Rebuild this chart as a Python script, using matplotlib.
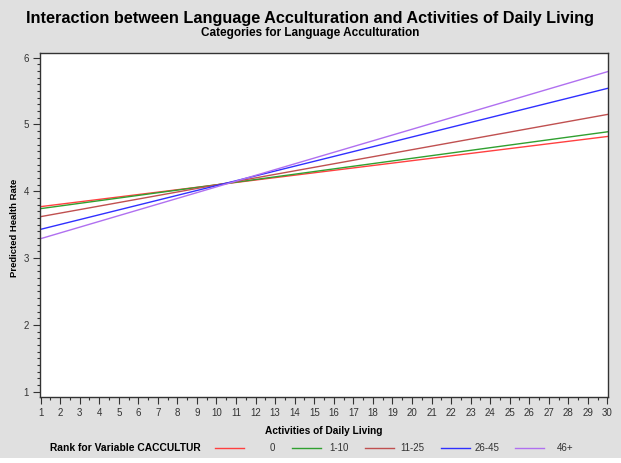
import matplotlib
matplotlib.use('Agg')
import matplotlib.pyplot as plt
from matplotlib.patches import Rectangle
from matplotlib.ticker import MultipleLocator

plt.rcParams['font.family'] = 'Liberation Sans'

# data (straight lines, value at x=1 and x=30)
adl = [1, 30]
groups = ['0', '1-10', '11-25', '26-45', '46+']
rate_0 = [3.77, 4.82]
rate_1_10 = [3.74, 4.89]
rate_11_25 = [3.62, 5.15]
rate_26_45 = [3.43, 5.54]
rate_46 = [3.29, 5.79]
colors = ['#ff4040', '#30a030', '#c05050', '#3030ff', '#b070f0']

fig = plt.figure(figsize=(6.21, 4.63), dpi=100)
fig.patch.set_facecolor('white')
fig.add_artist(Rectangle((0, 5 / 463), 1, 1, transform=fig.transFigure,
                         facecolor='#e0e0e0', edgecolor='none', zorder=-10))

ax = fig.add_axes([40 / 621, 1 - 397 / 463, 568 / 621, 344 / 463])
ax.set_facecolor('white')

series = [rate_0, rate_1_10, rate_11_25, rate_26_45, rate_46]
handles = []
for vals, c, g in zip(series, colors, groups):
    h, = ax.plot(adl, vals, color=c, lw=1, label=g)
    handles.append(h)

ax.set_xlim(0.97, 30.03)
ax.set_ylim(0.92, 6.07)
ax.xaxis.set_major_locator(MultipleLocator(1))
ax.xaxis.set_minor_locator(MultipleLocator(0.5))
ax.yaxis.set_major_locator(MultipleLocator(1))
ax.yaxis.set_minor_locator(MultipleLocator(0.1))
ax.tick_params(which='major', length=5, width=0.8, color='#333333',
               labelsize=7, labelcolor='#333333', pad=3)
ax.tick_params(which='minor', length=2.5, width=0.8, color='#333333')
for s in ax.spines.values():
    s.set_color('#333333')
    s.set_linewidth(1)

fig.text(0.5, 1 - 18 / 463, 'Interaction between Language Acculturation and Activities of Daily Living',
         ha='center', va='center', fontsize=11.7, fontweight='bold')
fig.text(0.5, 1 - 33 / 463, 'Categories for Language Acculturation',
         ha='center', va='center', fontsize=8.5, fontweight='bold')
fig.text(324 / 621, 1 - 431 / 463, 'Activities of Daily Living',
         ha='center', va='center', fontsize=7.3, fontweight='bold')
fig.text(15 / 621, 1 - 228 / 463, 'Predicted Health Rate', rotation=90,
         ha='center', va='center', fontsize=6.8, fontweight='bold')
fig.text(50 / 621, 1 - 448 / 463, 'Rank for Variable CACCULTUR',
         ha='left', va='center', fontsize=7.4, fontweight='bold')

# one small legend per group, laid out in slots like the original
slot_x = [215, 292, 365, 441, 515]
text_pad = [2.6, 0.8, 0.6, 0.5, 1.3]
for h, g, sx, tp in zip(handles, groups, slot_x, text_pad):
    leg = fig.legend(handles=[h], labels=[g], loc='center left',
                     bbox_to_anchor=(sx / 621, 1 - 448 / 463), frameon=False,
                     handlelength=3.0, handletextpad=tp,
                     borderpad=0, borderaxespad=0, fontsize=7)
    for t in leg.get_texts():
        t.set_color('#333333')

fig.savefig('out.png', dpi=100, facecolor=fig.get_facecolor())
